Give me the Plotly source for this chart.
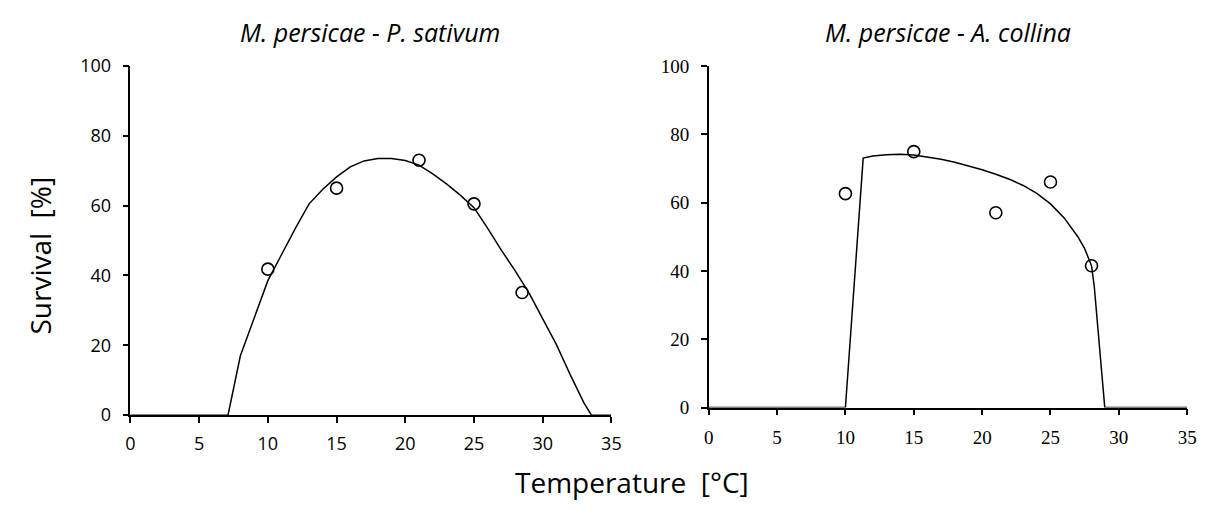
import plotly.graph_objects as go

# ---- data ----
temp_obs_left = [10, 15, 21, 25, 28.5]
surv_obs_left = [41.8, 65.0, 73.0, 60.5, 35.1]
temp_fit_left = [0, 7.1, 8, 9, 10, 11, 12, 13, 14, 15, 16, 17, 18, 19, 20, 21, 22, 23, 24, 25,
                 26, 27, 28, 29, 30, 31, 32, 33, 33.55, 35]
surv_fit_left = [0, 0, 17, 28, 38.5, 46, 53.5, 60.5, 64.7, 68.2, 71.1, 72.8, 73.5, 73.5, 72.9, 71.6,
                 69.1, 66.2, 63.0, 59.4, 53.5, 47.2, 41.3, 35.0, 27.5, 20.2, 11.6, 3.5, 0, 0]

temp_obs_right = [10, 15, 21, 25, 28]
surv_obs_right = [62.6, 74.9, 57.0, 66.0, 41.5]
temp_fit_right = [0, 10, 11.3, 11.6, 12, 13, 14, 15, 16, 17, 18, 19, 20, 21, 22, 23, 24, 25,
                  26, 27, 27.5, 28, 28.2, 28.97, 35]
surv_fit_right = [0, 0, 73.0, 73.3, 73.6, 74.0, 74.1, 73.9, 73.4, 72.7, 71.8, 70.8, 69.6, 68.3,
                  66.8, 65.0, 62.7, 59.6, 55.5, 50.0, 46.5, 41.5, 35.5, 0, 0]

title_left = "<i>M. persicae - P. sativum</i>"
title_right = "<i>M. persicae - A. collina</i>"
x_ticks = [0, 5, 10, 15, 20, 25, 30, 35]
y_ticks = [0, 20, 40, 60, 80, 100]

W, H = 1214, 510
SANS = "Open Sans"
SERIF = "Liberation Serif"

fig = go.Figure()
line_style = dict(color="black", width=1.5)
marker_style = dict(symbol="circle-open", size=12, color="black", line=dict(width=1.6, color="black"))

fig.add_trace(go.Scatter(x=temp_fit_left, y=surv_fit_left, mode="lines", line=line_style,
                         xaxis="x", yaxis="y", showlegend=False, hoverinfo="skip"))
fig.add_trace(go.Scatter(x=temp_obs_left, y=surv_obs_left, mode="markers", marker=marker_style,
                         xaxis="x", yaxis="y", showlegend=False))
fig.add_trace(go.Scatter(x=temp_fit_right, y=surv_fit_right, mode="lines", line=line_style,
                         xaxis="x2", yaxis="y2", showlegend=False, hoverinfo="skip"))
fig.add_trace(go.Scatter(x=temp_obs_right, y=surv_obs_right, mode="markers", marker=marker_style,
                         xaxis="x2", yaxis="y2", showlegend=False))


def px_x(p):
    return p / W


def px_y(p):
    return 1 - p / H


def axis_common(font_family, size, standoff):
    return dict(showgrid=False, zeroline=False, showline=True, linecolor="black", linewidth=1.5,
                ticks="outside", ticklen=6, tickwidth=1.5, tickcolor="black",
                ticklabelstandoff=standoff,
                tickfont=dict(family=font_family, size=size, color="black"))


fig.update_layout(
    width=W, height=H,
    margin=dict(l=0, r=0, t=0, b=0),
    paper_bgcolor="white", plot_bgcolor="white",
    xaxis=dict(domain=[px_x(127), px_x(614)], range=[0, 35], tickvals=x_ticks, anchor="y",
               **axis_common(SANS, 18, 6)),
    yaxis=dict(domain=[px_y(422), px_y(55.5)], range=[0, 100], tickvals=y_ticks, anchor="x",
               **axis_common(SANS, 18, 8)),
    xaxis2=dict(domain=[px_x(712.5), px_x(1197)], range=[0, 35], tickvals=x_ticks, anchor="y2",
                **axis_common(SERIF, 19, 6)),
    yaxis2=dict(domain=[px_y(414), px_y(55.5)], range=[0, 100], tickvals=y_ticks, anchor="x2",
                **axis_common(SERIF, 19, 8)),
    annotations=[
        dict(text=title_left, x=px_x(370), y=px_y(20), xref="paper", yref="paper",
             showarrow=False, font=dict(family=SANS, size=25, color="black"),
             xanchor="center", yanchor="middle"),
        dict(text=title_right, x=px_x(955), y=px_y(20), xref="paper", yref="paper",
             showarrow=False, font=dict(family=SANS, size=25, color="black"),
             xanchor="center", yanchor="middle"),
        dict(text="Survival  [%]", x=px_x(35), y=px_y(255), xref="paper", yref="paper",
             showarrow=False, textangle=-90, font=dict(family=SANS, size=28, color="black"),
             xanchor="center", yanchor="middle"),
        dict(text="Temperature  [°C]", x=px_x(635), y=px_y(492), xref="paper", yref="paper",
             showarrow=False, font=dict(family=SANS, size=28, color="black"),
             xanchor="center", yanchor="middle"),
    ],
)

fig.write_html("out.html")
